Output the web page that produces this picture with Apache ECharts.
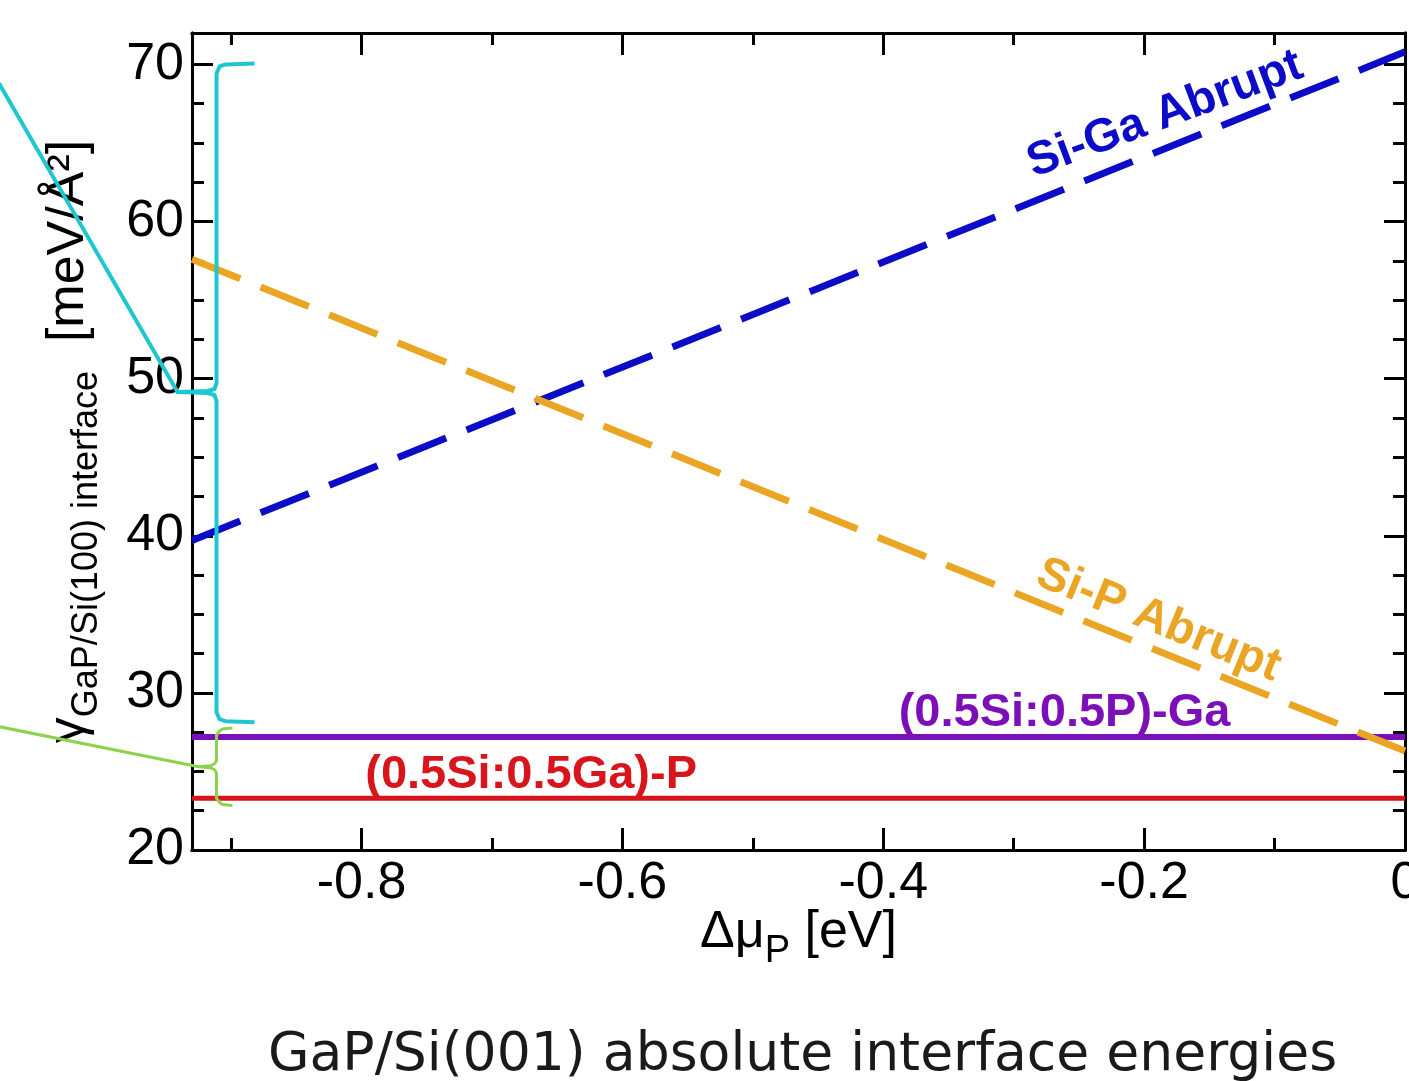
<!DOCTYPE html>
<html><head><meta charset="utf-8">
<script src="https://cdn.jsdelivr.net/npm/echarts@6/dist/echarts.min.js"></script>
<style>html,body{margin:0;padding:0;background:#fff}#c{width:1409px;height:1081px}</style>
</head><body><div id="c"></div>
<script>
// ---- data ----
const xExtent = [-0.93, 0];
const yExtent = [20, 72];
const xMajorTicks = [-0.8, -0.6, -0.4, -0.2, 0];
const xMinorTicks = [-0.9, -0.7, -0.5, -0.3, -0.1];
const yMajorTicks = [20, 30, 40, 50, 60, 70];
const yMinorTicks = [22.5, 25, 27.5, 32.5, 35, 37.5, 42.5, 45, 47.5, 52.5, 55, 57.5, 62.5, 65, 67.5];
const muP = [-0.93, 0];
const siGaAbrupt = [39.7, 70.8];
const siPAbrupt = [57.6, 26.3];
const mixSiP_Ga = [27.2, 27.2];
const mixSiGa_P = [23.3, 23.3];
const seriesNames = ['Si-Ga Abrupt', 'Si-P Abrupt', '(0.5Si:0.5P)-Ga', '(0.5Si:0.5Ga)-P'];
const labelAnchors = [[-0.184, 66.8], [-0.189, 34.6], [-0.261, 28.74], [-0.670, 24.78]];
// annotation braces (data units): [xLine, xHook, xTip, yTop, yTip, yBottom, xFar, yFar]
const cyanBrace = [-0.9112, -0.8821, -0.9411, 70.0, 49.15, 28.2, -1.078, 68.8];
const greenBrace = [-0.9112, -0.8990, -0.9250, 27.7, 25.3, 22.9, -1.078, 27.85];
const titleText = 'GaP/Si(001) absolute interface energies';

const FONT = '"Liberation Sans", Arial, Helvetica, sans-serif';
const colors = ['#0c0cc8', '#eba524', '#7c10b8', '#d8141c'];

function xAx(pos, ticks, len, labels) {
  return {
    type: 'value', position: pos, min: xExtent[0], max: xExtent[1],
    axisLine: { show: true, onZero: false, lineStyle: { color: '#000', width: 3 } },
    axisTick: { show: true, inside: true, length: len, customValues: ticks, lineStyle: { color: '#000', width: 3 } },
    axisLabel: labels ? { show: true, customValues: ticks, fontSize: 52, color: '#000', fontFamily: FONT, margin: 8, hideOverlap: false } : { show: false },
    splitLine: { show: false }
  };
}
function yAx(pos, ticks, len, labels) {
  return {
    type: 'value', position: pos, min: yExtent[0], max: yExtent[1],
    axisLine: { show: true, onZero: false, lineStyle: { color: '#000', width: 3 } },
    axisTick: { show: true, inside: true, length: len, customValues: ticks, lineStyle: { color: '#000', width: 3 } },
    axisLabel: labels ? { show: true, customValues: ticks, fontSize: 52, color: '#000', fontFamily: FONT, margin: 8 } : { show: false },
    splitLine: { show: false }
  };
}

const xMain = xAx('bottom', xMajorTicks, 22, true);
xMain.name = '{n|Δμ}{s|P}{n| [eV]}';
xMain.nameLocation = 'middle';
xMain.nameGap = 57;
xMain.nameMoveOverlap = false;
xMain.nameTextStyle = { color: '#000', fontFamily: FONT, lineHeight: 64,
  rich: { n: { fontSize: 52, lineHeight: 64, height: 52, verticalAlign: 'top', fontFamily: FONT, color: '#000' },
          s: { fontSize: 38, lineHeight: 64, height: 38, verticalAlign: 'bottom', fontFamily: FONT, color: '#000' } } };

const yMain = yAx('left', yMajorTicks, 21, true);
yMain.name = '{n|γ}{s|GaP/Si(100) interface}{n|  [meV/Å²]}';
yMain.nameLocation = 'middle';
yMain.nameRotate = 90;
yMain.nameGap = 87;
yMain.nameMoveOverlap = false;
yMain.nameTextStyle = { color: '#000', fontFamily: FONT, lineHeight: 62,
  rich: { n: { fontSize: 52, lineHeight: 62, height: 52, verticalAlign: 'top', fontFamily: FONT, color: '#000' },
          s: { fontSize: 36, lineHeight: 62, height: 36, verticalAlign: 'bottom', fontFamily: FONT, color: '#000' } } };

function lineSeries(name, vals, color, width, dashed) {
  return {
    name: name, type: 'line', xAxisIndex: 0, yAxisIndex: 0,
    data: muP.map((x, i) => [x, vals[i]]),
    showSymbol: false, symbol: 'none', silent: true, animation: false,
    lineStyle: { color: color, width: width, type: dashed ? [52, 22] : 'solid', cap: 'butt' }
  };
}

const chart = echarts.init(document.getElementById('c'), null, { renderer: 'canvas' });
chart.setOption({
  animation: false,
  backgroundColor: '#ffffff',
  title: { text: titleText, left: 263, top: 1024,
    textStyle: { fontFamily: '"DejaVu Sans", Verdana, sans-serif', fontSize: 53.6, fontWeight: 'normal', color: '#1a1a1a' } },
  grid: { left: 192, right: 4, top: 33, bottom: 231, containLabel: false, outerBoundsMode: 'none' },
  xAxis: [xMain, xAx('bottom', xMinorTicks, 12, false), xAx('top', xMajorTicks, 22, false), xAx('top', xMinorTicks, 12, false)],
  yAxis: [yMain, yAx('left', yMinorTicks, 12, false), yAx('right', yMajorTicks, 21, false), yAx('right', yMinorTicks, 12, false)],
  series: [
    lineSeries(seriesNames[3], mixSiGa_P, colors[3], 5, false),
    lineSeries(seriesNames[2], mixSiP_Ga, colors[2], 6, false),
    lineSeries(seriesNames[0], siGaAbrupt, colors[0], 7, true),
    lineSeries(seriesNames[1], siPAbrupt, colors[1], 7, true)
  ]
});

const px = (p) => chart.convertToPixel({ gridIndex: 0 }, p);

function angleOf(vals) {
  const a = px([muP[0], vals[0]]), b = px([muP[1], vals[1]]);
  return Math.atan2(a[1] - b[1], b[0] - a[0]);
}
const rotations = [angleOf(siGaAbrupt) * 0.93, angleOf(siPAbrupt), 0, 0];

const elements = [];
seriesNames.forEach((name, i) => {
  const p = px(labelAnchors[i]);
  elements.push({
    type: 'text', x: p[0], y: p[1], rotation: rotations[i], z: 100, silent: true,
    style: { text: name, fill: colors[i], font: 'bold 47px ' + FONT, fontSize: 47, fontWeight: 'bold', fontFamily: FONT,
      textAlign: 'center', textVerticalAlign: 'middle', align: 'center', verticalAlign: 'middle' }
  });
});

function brace(b, color, width, r) {
  const [xl, yt] = px([b[0], b[3]]);
  const xh = px([b[1], b[3]])[0];
  const xt = px([b[2], b[3]])[0];
  const yi = px([b[0], b[4]])[1];
  const yb = px([b[0], b[5]])[1];
  const far = px([b[6], b[7]]);
  const pts = [
    [xh, yt - 1], [xl + r, yt], [xl + 3, yt + 2], [xl, yt + r],
    [xl, yi - r], [xl - 2, yi - 3], [xl - r, yi - 1], [xt, yi],
    [xl - r, yi + 1], [xl - 2, yi + 3], [xl, yi + r],
    [xl, yb - r], [xl + 3, yb - 2], [xl + r, yb], [xh, yb + 1]
  ];
  elements.push({ type: 'polyline', z: 90, silent: true, shape: { points: pts },
    style: { stroke: color, lineWidth: width, fill: null, lineJoin: 'round' } });
  elements.push({ type: 'line', z: 90, silent: true, shape: { x1: xt, y1: yi, x2: far[0], y2: far[1] },
    style: { stroke: color, lineWidth: width } });
}
brace(cyanBrace, '#1ec6cf', 4, 9);
brace(greenBrace, '#8cd24c', 3, 6);

chart.setOption({ graphic: { elements: elements } });
</script></body></html>
